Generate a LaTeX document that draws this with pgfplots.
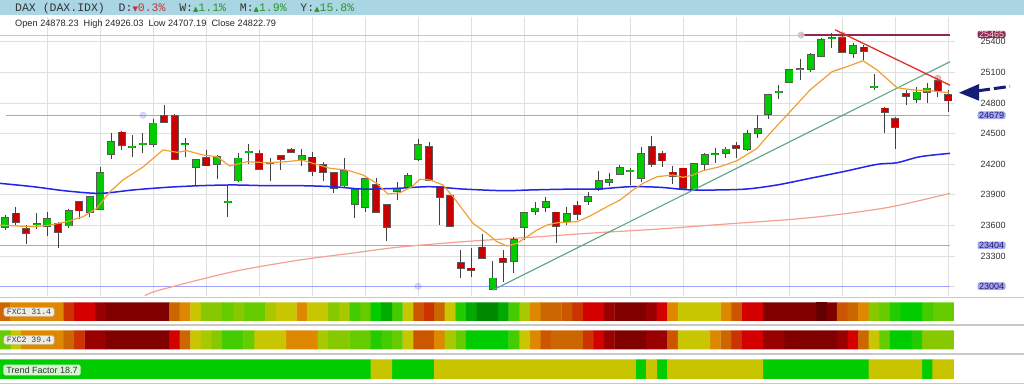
\documentclass[border=0pt]{standalone}
\usepackage{pgfplots}
\pgfplotsset{compat=1.18}
\usepackage{pgfplotstable}
\usepackage{fontspec}
\setmainfont{Liberation Sans}
\newfontfamily\monofont{Liberation Mono}
\newfontfamily\dejavu{DejaVu Sans}

\definecolor{hdr}{RGB}{170,214,228}
\definecolor{cgreen}{RGB}{0,204,0}
\definecolor{cred}{RGB}{204,0,0}
\definecolor{lav}{RGB}{160,160,255}
\definecolor{labbox}{RGB}{165,165,245}
\definecolor{labtext}{RGB}{30,30,100}
\definecolor{maroonl}{RGB}{140,40,80}
\definecolor{lvlgray}{RGB}{212,192,198}
\definecolor{maeight}{RGB}{240,160,50}
\definecolor{mafifty}{RGB}{35,35,235}
\definecolor{matwo}{RGB}{245,160,145}
\definecolor{tlgreen}{RGB}{100,170,140}
\definecolor{tlred}{RGB}{220,50,40}
\definecolor{navyarrow}{RGB}{20,30,120}
\definecolor{hdrred}{RGB}{200,50,50}
\definecolor{hdrgreen}{RGB}{40,150,40}
\definecolor{sep}{RGB}{200,200,200}
% heat palette
\definecolor{m0}{RGB}{128,0,0}
\definecolor{m1}{RGB}{153,0,0}
\definecolor{m2}{RGB}{212,0,0}
\definecolor{m3}{RGB}{204,51,0}
\definecolor{m4}{RGB}{204,85,0}
\definecolor{m5}{RGB}{204,102,0}
\definecolor{m6}{RGB}{221,136,0}
\definecolor{m7}{RGB}{200,198,0}
\definecolor{m8}{RGB}{168,200,0}
\definecolor{m9}{RGB}{136,200,0}
\definecolor{m10}{RGB}{102,204,0}
\definecolor{m11}{RGB}{68,204,0}
\definecolor{m12}{RGB}{34,204,0}
\definecolor{m13}{RGB}{0,204,0}
\definecolor{m14}{RGB}{0,170,0}
\definecolor{m15}{RGB}{0,136,0}
\definecolor{m16}{RGB}{100,0,0}
\definecolor{tfy}{RGB}{200,196,0}
\definecolor{tfg}{RGB}{0,204,0}

\pgfplotstableread{
i O H L C
1 23587 23700 23555 23675
4 23608 23721 23565 23614
5 23597 23731 23496 23660
7 23597 23760 23574 23741
9 23734 23888 23682 23881
10 23760 24169 23751 24116
11 24300 24508 24251 24420
13 24368 24486 24273 24374
14 24396 24508 24306 24404
15 24397 24640 24365 24600
18 24392 24453 24273 24398
19 24172 24250 23996 24241
21 24199 24290 24052 24273
22 23829 23989 23679 23835
23 24038 24306 24022 24257
24 24319 24395 24202 24325
26 24212 24257 24038 24216
29 24248 24345 24182 24280
33 23989 24257 23963 24133
34 23807 23955 23675 23947
35 23783 24062 23734 24052
38 23934 24028 23849 23954
39 23979 24110 23963 24087
40 24251 24443 24234 24388
47 22975 23251 22965 23081
49 23254 23489 23136 23457
50 23587 23730 23457 23724
51 23738 23832 23702 23767
52 23783 23881 23728 23832
54 23646 23783 23604 23709
56 23842 23930 23800 23881
57 23956 24136 23940 24035
58 24022 24116 23986 24045
59 24103 24192 24094 24165
60 24133 24159 23996 24139
61 24061 24371 24028 24297
66 23947 24208 23937 24202
67 24202 24306 24143 24290
68 24294 24355 24208 24300
69 24306 24371 24257 24345
71 24351 24535 24332 24493
72 24508 24682 24453 24544
73 24689 24885 24642 24878
74 24906 24976 24838 24913
75 25002 25130 24992 25122
76 25129 25228 25025 25135
77 25132 25292 25106 25267
78 25260 25433 25247 25417
79 25430 25490 25335 25436
81 25286 25384 25237 25358
83 24956 25081 24927 24962
87 24838 24959 24796 24904
88 24904 24992 24802 24943
}\greentab

\pgfplotstableread{
i O H L C
2 23718 23783 23604 23636
3 23562 23604 23417 23522
6 23620 23636 23375 23538
8 23829 23835 23663 23744
12 24512 24528 24339 24388
16 24675 24780 24608 24616
17 24672 24692 24241 24251
20 24263 24339 24180 24185
25 24300 24339 24143 24155
27 24280 24290 24143 24251
28 24339 24355 24312 24322
30 24267 24322 24087 24136
31 24192 24224 24035 24120
32 24116 24125 23920 23969
36 23993 24062 23718 23734
37 23800 23810 23450 23581
41 24371 24420 24040 24045
42 23979 23989 23604 23881
43 23888 23890 23586 23594
44 23234 23359 23081 23185
45 23179 23375 23097 23163
46 23385 23515 23267 23283
48 23277 23356 23048 23244
53 23728 23735 23424 23597
55 23790 23839 23653 23709
62 24371 24479 24175 24199
63 24300 24329 24169 24234
64 24120 24185 24005 24084
65 24159 24165 23956 23963
70 24378 24420 24257 24358
80 25439 25465 25286 25302
82 25345 25368 25221 25312
84 24747 24763 24502 24714
85 24642 24665 24345 24567
86 24887 24927 24780 24868
89 25015 25041 24861 24920
90 24878.23 24926.03 24707.19 24822.79
}\redtab

\newcommand{\wicks}[1]{\addplot[draw=none, mark=none, error bars/.cd, y dir=both, y explicit, error mark=none, error bar style={line width=0.9pt, draw=black!75}] table[x=i, y expr={(\thisrow{H}+\thisrow{L})/2}, y error expr={(\thisrow{H}-\thisrow{L})/2}] {#1};}
\newcommand{\bodies}[2]{%
\addplot[draw=none, mark=none, error bars/.cd, y dir=both, y explicit, error mark=none, error bar style={line width=8pt, draw=black!65}] table[x=i, y expr={(\thisrow{O}+\thisrow{C})/2}, y error expr={abs(\thisrow{C}-\thisrow{O})/2+8}] {#1};
\addplot[draw=none, mark=none, error bars/.cd, y dir=both, y explicit, error mark=none, error bar style={line width=6.2pt, draw=#2}] table[x=i, y expr={(\thisrow{O}+\thisrow{C})/2}, y error expr={abs(\thisrow{C}-\thisrow{O})/2}] {#1};}
\newcommand{\cell}[2]{\addplot[ybar, bar width=1.04, bar shift=0pt, fill=#1, draw=none] coordinates {#2};}

\begin{document}
\begin{tikzpicture}
\fill[hdr] (0pt,369.5pt) rectangle (1024pt,385pt);
\node[anchor=west, inner sep=0pt, font=\monofont\fontsize{11.5}{12}\selectfont, text=black!80] at (15pt,376.8pt)
{DAX~(DAX.IDX)~~D:\textcolor{hdrred}{{\dejavu\fontsize{7}{7}\selectfont ▼}0.3\%}~~W:\textcolor{hdrgreen}{{\dejavu\fontsize{7}{7}\selectfont ▲}1.1\%}~~M:\textcolor{hdrgreen}{{\dejavu\fontsize{7}{7}\selectfont ▲}1.9\%}~~Y:\textcolor{hdrgreen}{{\dejavu\fontsize{7}{7}\selectfont ▲}15.8\%}};

\begin{axis}[
  at={(0pt,89pt)}, anchor=south west, scale only axis,
  width=955pt, height=279pt,
  xmin=0.528, xmax=90.62, ymin=22907.9, ymax=25642.1,
  axis line style={draw=none}, tick style={draw=none},
  major tick length=0pt,
  xtick={5,10,...,90}, xticklabels={},
  ytick={23000,23300,...,25400},
  yticklabel pos=right,
  scaled y ticks=false,
  /pgf/number format/.cd, 1000 sep={}, assume math mode=true, /pgfplots/.cd,
  yticklabel style={font=\fontsize{9}{10}\selectfont, text=black!80, xshift=22pt},
  grid=major, grid style={draw=black!12, line width=0.8pt},
]
% level lines
\addplot[lvlgray, line width=1pt] coordinates {(0.528,25465) (90.15,25465)};
\addplot[maroonl, line width=1.2pt] coordinates {(76.1,25465) (90.15,25465)};
\addplot[lav, line width=1.2pt] coordinates {(1.1,24679) (90.15,24679)};
\addplot[lav, line width=1.2pt] coordinates {(0.528,23404) (90.15,23404)};
\addplot[lav, line width=1.2pt] coordinates {(0.528,23004) (90.15,23004)};
% long MA
\addplot[matwo, line width=1.2pt, smooth] coordinates {(14.2,22910) (15.62,22967) (22.51,23146) (28.83,23261) (33.55,23325) (37.98,23385) (44.21,23440) (50.53,23483) (56.85,23528) (62.79,23565) (69.12,23614) (75.34,23660) (80.06,23712) (84.77,23785) (90.15,23914)};
% candles
\wicks{\greentab}
\wicks{\redtab}
\bodies{\greentab}{cgreen}
\bodies{\redtab}{cred}
% MA 50
\addplot[mafifty, line width=1.5pt, smooth] coordinates {(0.53,24012) (3.67,23979) (6.82,23937) (9.96,23914) (13.08,23947) (16.28,23973) (19.4,23989) (22.51,23996) (25.72,23989) (28.83,23989) (31.94,23979) (34.77,23956) (37.98,23963) (41.09,23979) (44.21,23956) (47.98,23940) (50.53,23947) (53.64,23954) (56.85,23956) (59.96,23979) (62.79,23973) (65.9,23947) (70.62,23954) (73.83,23996) (76.94,24061) (80.06,24126) (83.26,24198) (85.15,24214) (87.32,24273) (90.15,24306)};
% trend lines
\addplot[tlgreen, line width=1.2pt] coordinates {(47,22965) (90.15,25204)};
% short MA
\addplot[maeight, line width=1.2pt] coordinates {(0.53,23603) (2.1,23594) (3.64,23587) (5.25,23603) (6.82,23636) (8.36,23685) (9.65,23767) (10.9,23930) (12.13,24045) (14.02,24172) (15.9,24339) (17.23,24316) (18.17,24332) (19.68,24290) (21,24273) (22.2,24182) (23.83,24224) (25.72,24214) (27.6,24224) (29,24241) (30.06,24208) (31.66,24159) (33.2,24143) (34.77,24094) (36.07,24012) (37.13,23907) (38.26,23920) (39.37,23979) (40.15,24052) (41.09,24045) (42.32,23996) (43.26,23881) (44.21,23750) (45.15,23620) (46.47,23522) (47.41,23440) (48.36,23398) (49.3,23424) (50.25,23489) (51.19,23555) (52.13,23603) (53.08,23626) (54.96,23636) (56.19,23692) (57.79,23783) (59.02,23849) (60.24,23947) (61.19,24012) (62.51,24077) (64.02,24094) (64.96,24071) (65.9,24094) (66.85,24136) (68.45,24175) (70.06,24234) (71.94,24355) (73.17,24502) (75.06,24714) (76.94,24927) (79.02,25106) (80.43,25155) (81.94,25214) (83.26,25123) (85.15,24949) (86.66,24927) (88.26,24920) (90.06,24900)};
\addplot[tlred, line width=1.3pt] coordinates {(79.3,25517) (90.15,24973)};
% pivot dots
\addplot[only marks, mark=*, mark size=3.3pt, color=tlred, opacity=0.35] coordinates {(80,25465) (89,25041)};
\addplot[only marks, mark=*, mark size=3.3pt, color=lvlgray, opacity=0.9] coordinates {(76.1,25465)};
\addplot[only marks, mark=*, mark size=3.3pt, color=blue!60, opacity=0.25] coordinates {(14.02,24679) (39.96,23004)};
\coordinate (r25465) at (axis cs:90.62,25465);
\coordinate (r24679) at (axis cs:90.62,24679);
\coordinate (r23404) at (axis cs:90.62,23404);
\coordinate (r23004) at (axis cs:90.62,23004);
\end{axis}

\node[anchor=west, inner sep=0pt, font=\fontsize{9.2}{10}\selectfont, text=black!85] at (15pt,361pt) {Open 24878.23 \ High 24926.03 \ Low 24707.19 \ Close 24822.79};

\foreach \c/\t in {r24679/24679, r23404/23404, r23004/23004}{
  \node[fill=labbox, text=labtext, rounded corners=2pt, inner xsep=1.5pt, inner ysep=0.6pt, font=\fontsize{9}{10}\selectfont] at ([xshift=36.5pt]\c) {\t};
}
\node[fill=maroonl, text={rgb,255:red,245;green,215;blue,225}, rounded corners=2pt, inner xsep=1.5pt, inner ysep=0.3pt, font=\fontsize{9}{9.5}\selectfont] at ([xshift=36.5pt,yshift=0.6pt]r25465) {25465};

% arrow
\draw[navyarrow, line width=3pt, dash pattern=on 12pt off 4pt] (978pt,294.2pt) -- (1010pt,298.6pt);
\fill[navyarrow] (959pt,292.3pt) -- (979pt,301pt) -- (979pt,284.3pt) -- cycle;

% separators
\foreach \yy in {87.7,60,31,1.7}{\draw[sep, line width=1.4pt] (0pt,\yy pt) -- (1024pt,\yy pt);}

% FXC1
\begin{axis}[at={(0pt,64pt)}, anchor=south west, scale only axis, width=955pt, height=18.5pt,
  xmin=0.528, xmax=90.62, ymin=0, ymax=1, hide axis]
\cell{m0}{(11,1)(12,1)(13,1)(14,1)(15,1)(16,1)(59,1)(60,1)(61,1)(73,1)(74,1)(75,1)(76,1)(77,1)(79,1)}
\cell{m1}{(10,1)(58,1)(62,1)}
\cell{m2}{(8,1)(9,1)(56,1)(57,1)(63,1)(71,1)(72,1)}
\cell{m3}{(7,1)(41,1)(55,1)}
\cell{m4}{(40,1)(54,1)(70,1)(80,1)}
\cell{m5}{(1,1)(17,1)(42,1)(52,1)(53,1)(81,1)}
\cell{m6}{(2,1)(3,1)(4,1)(5,1)(6,1)(18,1)(29,1)(51,1)(64,1)(69,1)(82,1)}
\cell{m7}{(19,1)(27,1)(28,1)(30,1)(31,1)(39,1)(43,1)(65,1)(66,1)(67,1)(68,1)}
\cell{m8}{(26,1)(33,1)(50,1)}
\cell{m9}{(20,1)(21,1)(23,1)(32,1)(83,1)}
\cell{m10}{(22,1)(24,1)(25,1)(35,1)(84,1)(89,1)(90,1)}
\cell{m11}{(34,1)(38,1)(49,1)(88,1)}
\cell{m12}{(44,1)(85,1)}
\cell{m13}{(36,1)(86,1)(87,1)}
\cell{m14}{(37,1)(45,1)(48,1)}
\cell{m15}{(46,1)(47,1)}
\cell{m16}{(78,1)}
\end{axis}

% FXC2
\begin{axis}[at={(0pt,35.5pt)}, anchor=south west, scale only axis, width=955pt, height=19pt,
  xmin=0.528, xmax=90.62, ymin=0, ymax=1, hide axis]
\cell{m0}{(11,1)(12,1)(13,1)(14,1)(15,1)(16,1)(59,1)(60,1)(61,1)(75,1)(76,1)(77,1)(78,1)(79,1)}
\cell{m1}{(9,1)(10,1)(58,1)(62,1)(63,1)(73,1)(74,1)(80,1)}
\cell{m2}{(17,1)(57,1)(71,1)(72,1)(81,1)}
\cell{m3}{(8,1)(56,1)(70,1)}
\cell{m4}{(40,1)(41,1)(52,1)(64,1)}
\cell{m5}{(7,1)(18,1)(53,1)(54,1)(55,1)(69,1)(82,1)}
\cell{m6}{(3,1)(4,1)(5,1)(6,1)(28,1)(29,1)(30,1)(42,1)(51,1)(68,1)}
\cell{m7}{(2,1)(19,1)(25,1)(26,1)(27,1)(39,1)(50,1)(65,1)(66,1)(67,1)(83,1)}
\cell{m8}{(20,1)(31,1)(43,1)}
\cell{m9}{(21,1)(32,1)(33,1)(88,1)(89,1)(90,1)}
\cell{m10}{(1,1)(24,1)(34,1)(35,1)(38,1)(44,1)(84,1)}
\cell{m11}{(22,1)(23,1)(37,1)(49,1)}
\cell{m12}{(36,1)(87,1)}
\cell{m13}{(45,1)(46,1)(47,1)(48,1)(85,1)(86,1)}
\end{axis}

% Trend factor
\begin{axis}[at={(0pt,6pt)}, anchor=south west, scale only axis, width=955pt, height=19.5pt,
  xmin=0.528, xmax=90.62, ymin=0, ymax=1, hide axis]
\cell{tfg}{(1,1)(2,1)(3,1)(4,1)(5,1)(6,1)(7,1)(8,1)(9,1)(10,1)(11,1)(12,1)(13,1)(14,1)(15,1)(16,1)(17,1)(18,1)(19,1)(20,1)(21,1)(22,1)(23,1)(24,1)(25,1)(26,1)(27,1)(28,1)(29,1)(30,1)(31,1)(32,1)(33,1)(34,1)(35,1)(38,1)(39,1)(40,1)(41,1)(61,1)(63,1)(73,1)(74,1)(75,1)(76,1)(77,1)(78,1)(79,1)(80,1)(81,1)(82,1)(88,1)}
\cell{tfy}{(36,1)(37,1)(42,1)(43,1)(44,1)(45,1)(46,1)(47,1)(48,1)(49,1)(50,1)(51,1)(52,1)(53,1)(54,1)(55,1)(56,1)(57,1)(58,1)(59,1)(60,1)(62,1)(64,1)(65,1)(66,1)(67,1)(68,1)(69,1)(70,1)(71,1)(72,1)(83,1)(84,1)(85,1)(86,1)(87,1)(89,1)(90,1)}
\end{axis}

% strip labels
\node[fill={rgb,255:red,236;green,236;blue,228}, draw=black!25, rounded corners=1.5pt, inner xsep=3pt, inner ysep=1.5pt, text=black!75, font=\monofont\fontsize{8.2}{9}\selectfont] at (29pt,73pt) {FXC1 31.4};
\node[fill={rgb,255:red,236;green,236;blue,228}, draw=black!25, rounded corners=1.5pt, inner xsep=3pt, inner ysep=1.5pt, text=black!75, font=\monofont\fontsize{8.2}{9}\selectfont] at (29pt,45pt) {FXC2 39.4};
\node[fill={rgb,255:red,212;green,245;blue,208}, rounded corners=1.5pt, inner xsep=3pt, inner ysep=2pt, text=black!80, font=\fontsize{9}{10}\selectfont] at (42pt,15pt) {Trend Factor 18.7};

\pgfresetboundingbox
\path[use as bounding box] (0pt,0pt) rectangle (1024pt,385pt);
\end{tikzpicture}
\end{document}
